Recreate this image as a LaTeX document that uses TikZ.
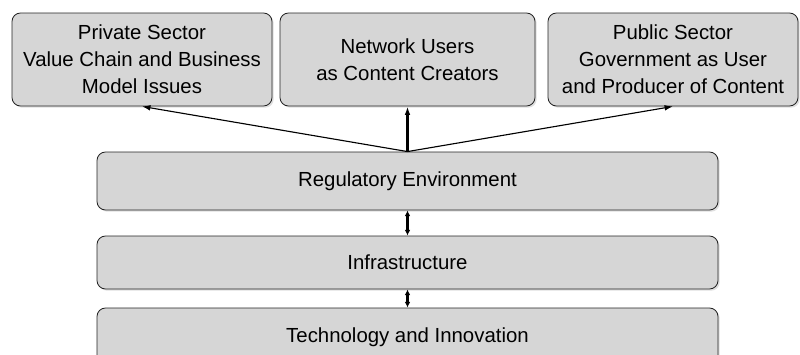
\documentclass[tikz,border=0pt]{standalone}
\usepackage{fontspec}
\setmainfont{Liberation Sans}
\usetikzlibrary{arrows.meta,shadows}

\tikzset{
  panel/.style={draw=black!85, line width=0.6pt, fill=black!16, rounded corners=6pt,
    drop shadow={opacity=0.25, shadow xshift=1.2pt, shadow yshift=-1.2pt},
    align=center, inner sep=0pt, font=\fontsize{14.5}{19.2}\selectfont},
  topbox/.style={panel, minimum width=#1, minimum height=2.325cm},
  layerbox/.style={panel, minimum width=15.525cm, minimum height=1.4cm},
  link/.style={-{Latex[length=6pt,width=4pt]}, line width=0.8pt},
  twoway/.style={{Latex[length=4pt,width=4pt]}-{Latex[length=4pt,width=4pt]}, line width=1.6pt}
}

\begin{document}
\begin{tikzpicture}
    \useasboundingbox (0,0) rectangle (20,8.85);

    % Cajas superiores
    \node[topbox=6.5cm]   (private) at (3.55,7.3625)  {Private Sector\\Value Chain and Business\\Model Issues};
    \node[topbox=6.375cm] (users)   at (10.1875,7.3625) {Network Users\\as Content Creators};
    \node[topbox=6.25cm]  (public)  at (16.825,7.3625) {Public Sector\\Government as User\\and Producer of Content};

    % Capas
    \node[layerbox, minimum height=1.45cm]  (regul) at (10.1875,4.325) {Regulatory Environment};
    \node[layerbox, minimum height=1.325cm] (infra) at (10.1875,2.2875) {Infrastructure};
    \node[layerbox, minimum height=1.45cm]  (tech)  at (10.1875,0.425) {Technology and Innovation};

    % Flechas
    \draw[link] (regul.north) -- (private.south);
    \draw[link, line width=1.6pt] (regul.north) -- (users.south);
    \draw[link] (regul.north) -- (public.south);
    \draw[twoway] (regul.south) -- (infra.north);
    \draw[twoway] (infra.south) -- (tech.north);
\end{tikzpicture}
\end{document}
